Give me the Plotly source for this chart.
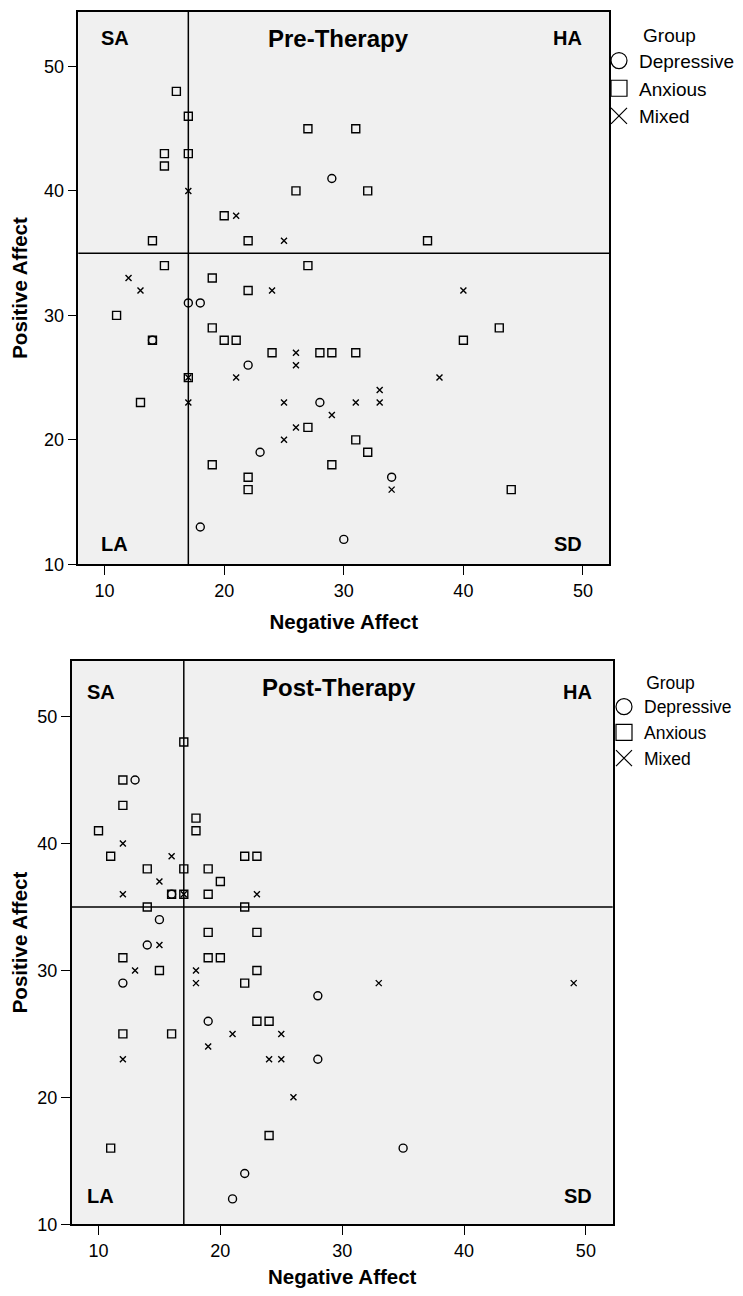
import plotly.graph_objects as go

# ---------------- data ----------------
# Pre-therapy (Negative Affect, Positive Affect)
pre_dep_na = [29, 17, 18, 14, 22, 28, 23, 34, 18, 30]
pre_dep_pa = [41, 31, 31, 28, 26, 23, 19, 17, 13, 12]

pre_anx_na = [16, 17, 15, 15, 17, 20, 14, 22, 27, 26, 31, 32, 37, 15, 19, 22, 27, 11, 19,
              14, 20, 21, 24, 28, 29, 31, 40, 43, 17, 13, 27, 31, 32, 29, 19, 22, 22, 44]
pre_anx_pa = [48, 46, 43, 42, 43, 38, 36, 36, 45, 40, 45, 40, 36, 34, 33, 32, 34, 30, 29,
              28, 28, 28, 27, 27, 27, 27, 28, 29, 25, 23, 21, 20, 19, 18, 18, 17, 16, 16]

pre_mix_na = [17, 21, 25, 12, 13, 24, 40, 26, 26, 17, 21, 17, 25, 38, 33, 33, 31, 29, 26, 25, 34]
pre_mix_pa = [40, 38, 36, 33, 32, 32, 32, 27, 26, 25, 25, 23, 23, 25, 24, 23, 23, 22, 21, 20, 16]

# Post-therapy
post_dep_na = [13, 16, 15, 14, 12, 19, 28, 28, 22, 21, 35]
post_dep_pa = [45, 36, 34, 32, 29, 26, 28, 23, 14, 12, 16]

post_anx_na = [17, 12, 12, 10, 18, 18, 11, 22, 23, 14, 17, 19, 20, 16, 17, 19, 14, 22, 19,
               23, 12, 19, 20, 15, 23, 22, 23, 24, 12, 16, 24, 11]
post_anx_pa = [48, 45, 43, 41, 42, 41, 39, 39, 39, 38, 38, 38, 37, 36, 36, 36, 35, 35, 33,
               33, 31, 31, 31, 30, 30, 29, 26, 26, 25, 25, 17, 16]

post_mix_na = [12, 16, 15, 12, 17, 23, 15, 13, 18, 18, 21, 25, 19, 12, 24, 25, 26, 33, 49]
post_mix_pa = [40, 39, 37, 36, 36, 36, 32, 30, 30, 29, 25, 25, 24, 23, 23, 23, 20, 29, 29]

groups = ["Depressive", "Anxious", "Mixed"]
panel_titles = ["Pre-Therapy", "Post-Therapy"]
quadrant_labels = ["SA", "HA", "LA", "SD"]
ticks = [10, 20, 30, 40, 50]
CUT_NA = 17   # vertical reference line (Negative Affect)
CUT_PA = 35   # horizontal reference line (Positive Affect)

# ---------------- layout helpers ----------------
FONT = "Liberation Sans, Arial, sans-serif"
PAGE_MARGIN = 8            # default browser body margin
W = 743 - 2 * PAGE_MARGIN
H = 1296 - 2 * PAGE_MARGIN


def fx(px):
    return (px - PAGE_MARGIN) / W


def fy(py):
    return 1 - (py - PAGE_MARGIN) / H


symbols = {"Depressive": "circle-open", "Anxious": "square-open", "Mixed": "x-thin-open"}
sizes = {"Depressive": 8, "Anxious": 8, "Mixed": 6}

fig = go.Figure()

panels = [
    dict(xa="x", ya="y", data={"Depressive": (pre_dep_na, pre_dep_pa),
                                "Anxious": (pre_anx_na, pre_anx_pa),
                                "Mixed": (pre_mix_na, pre_mix_pa)}, legend="legend"),
    dict(xa="x2", ya="y2", data={"Depressive": (post_dep_na, post_dep_pa),
                                  "Anxious": (post_anx_na, post_anx_pa),
                                  "Mixed": (post_mix_na, post_mix_pa)}, legend="legend2"),
]

for p in panels:
    for g in groups:
        xs, ys = p["data"][g]
        fig.add_trace(go.Scatter(
            x=xs, y=ys, mode="markers", xaxis=p["xa"], yaxis=p["ya"],
            marker=dict(symbol=symbols[g], size=sizes[g], color="black",
                        line=dict(color="black", width=1.4)),
            showlegend=False, name=g))
    # legend-only entries with large symbols
    for g in groups:
        fig.add_trace(go.Scatter(
            x=[None], y=[None], mode="markers", xaxis=p["xa"], yaxis=p["ya"],
            marker=dict(symbol=symbols[g], size=16, color="black",
                        line=dict(color="black", width=1.2)),
            name=g, showlegend=True, legend=p["legend"]))

axis_common = dict(showgrid=False, zeroline=False, showline=True, mirror=True,
                   linecolor="black", linewidth=1.5, ticks="outside", ticklen=9,
                   tickwidth=1.3, tickcolor="black", automargin=False,
                   tickfont=dict(family=FONT, size=18, color="black"),
                   tickvals=ticks)
title_font = dict(family=FONT, size=20.5, color="black", weight="bold")

fig.update_layout(
    width=W, height=H, margin=dict(l=0, r=0, t=0, b=0, autoexpand=False),
    paper_bgcolor="white", plot_bgcolor="#f0f0f0",
    xaxis=dict(axis_common, domain=[fx(78.3), fx(609.3)], anchor="y", range=[7.8, 52.2],
               title=dict(text="Negative Affect", font=title_font, standoff=15)),
    yaxis=dict(axis_common, domain=[fy(564.3), fy(11.7)], anchor="x", range=[10, 54.4],
               title=dict(text="Positive Affect", font=title_font, standoff=12)),
    xaxis2=dict(axis_common, domain=[fx(71.7), fx(612.7)], anchor="y2", range=[7.8, 52.2],
                title=dict(text="Negative Affect", font=title_font, standoff=12)),
    yaxis2=dict(axis_common, domain=[fy(1224.3), fy(660.7)], anchor="x2", range=[10, 54.4],
                title=dict(text="Positive Affect", font=title_font, standoff=12)),
    legend=dict(x=fx(599), y=fy(17), xref="container", yref="container",
                xanchor="left", yanchor="top",
                bgcolor="rgba(0,0,0,0)", font=dict(family=FONT, size=19, color="black"),
                title=dict(text="Group", side="top center",
                           font=dict(family=FONT, size=19, color="black"))),
    legend2=dict(x=fx(604), y=fy(666), xref="container", yref="container",
                 xanchor="left", yanchor="top",
                 bgcolor="rgba(0,0,0,0)", font=dict(family=FONT, size=17.5, color="black"),
                 title=dict(text="Group", side="top center",
                            font=dict(family=FONT, size=17.5, color="black"))),
)

# reference lines
shapes = []
for xa, ya in [("x", "y"), ("x2", "y2")]:
    shapes.append(dict(type="line", xref=xa, yref=f"{ya} domain", x0=CUT_NA, x1=CUT_NA,
                       y0=0, y1=1, line=dict(color="black", width=1.5)))
    shapes.append(dict(type="line", xref=f"{xa} domain", yref=ya, x0=0, x1=1,
                       y0=CUT_PA, y1=CUT_PA, line=dict(color="black", width=1.5)))
fig.update_layout(shapes=shapes)

# annotations: panel titles and quadrant labels (positions as fractions of the plot area)
ann_pos = [
    # (xref, yref, title_x, title_y, left x, right x, top y, bottom y)
    ("x domain", "y domain", 0.49, 0.952, 0.069, 0.922, 0.952, 0.037),
    ("x2 domain", "y2 domain", 0.494, 0.952, 0.054, 0.935, 0.945, 0.050),
]
annotations = []
for (xr, yr, tx, ty, lx, rx, top_y, bot_y), title in zip(ann_pos, panel_titles):
    annotations.append(dict(text=title, xref=xr, yref=yr, x=tx, y=ty, showarrow=False,
                            xanchor="center", yanchor="middle",
                            font=dict(family=FONT, size=24, color="black", weight="bold")))
    for lab, ax_, ay_ in zip(quadrant_labels, [lx, rx, lx, rx], [top_y, top_y, bot_y, bot_y]):
        annotations.append(dict(text=lab, xref=xr, yref=yr, x=ax_, y=ay_, showarrow=False,
                                xanchor="center", yanchor="middle",
                                font=dict(family=FONT, size=20, color="black", weight="bold")))
fig.update_layout(annotations=annotations)

fig.write_html("out.html")
